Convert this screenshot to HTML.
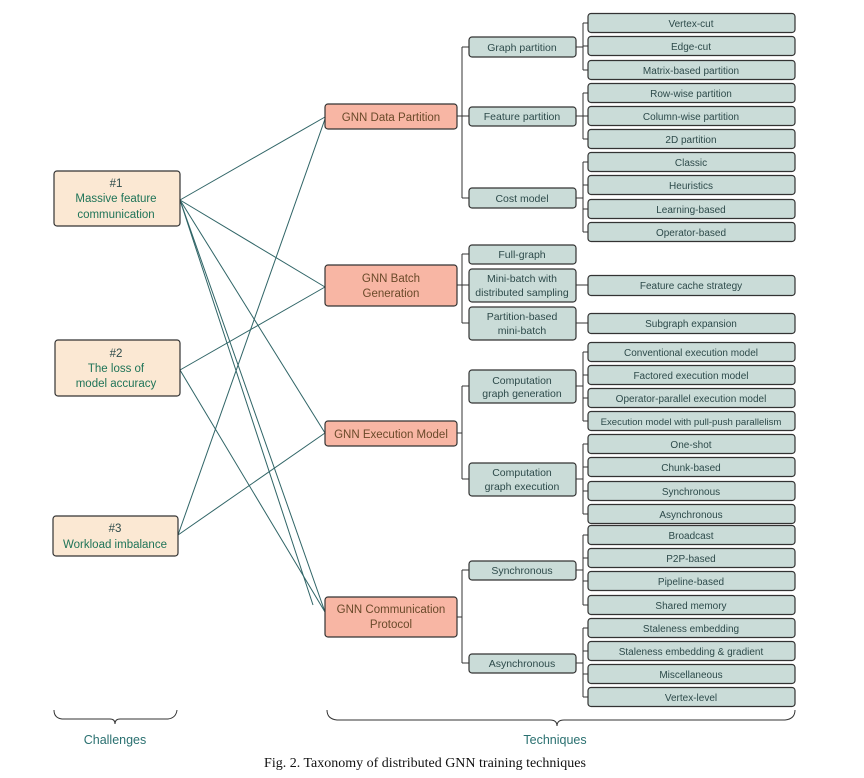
<!DOCTYPE html>
<html><head><meta charset="utf-8"><style>
body{margin:0;background:#fff;}
svg{display:block;}
text{font-family:"Liberation Sans",sans-serif;}
</style></head><body>
<svg width="864" height="778" viewBox="0 0 864 778" xmlns="http://www.w3.org/2000/svg">
<g stroke="#2f6466" stroke-width="1" fill="none">
<!-- challenge links -->
<line x1="180" y1="200" x2="325" y2="117"/>
<line x1="180" y1="200" x2="325" y2="287"/>
<line x1="180" y1="200" x2="325" y2="433"/>
<line x1="180" y1="200" x2="313" y2="605"/>
<line x1="180" y1="370" x2="325" y2="287"/>
<line x1="180" y1="370" x2="325" y2="612"/>
<line x1="178" y1="535" x2="325" y2="119"/>
<line x1="178" y1="535" x2="325" y2="433"/>
<line x1="180" y1="200" x2="325" y2="612"/>
</g>
<g stroke="#333" stroke-width="1" fill="none">
<!-- top trunks -->
<path d="M457 116H462M462 47V198M462 47H469M462 116H469M462 198H469"/>
<path d="M457 285H462M462 254V323M462 254H469M462 285H469M462 323H469"/>
<path d="M457 433H462M462 386V479M462 386H469M462 479H469"/>
<path d="M457 617H462M462 570V663M462 570H469M462 663H469"/>
<!-- mid trunks -->
<path d="M576 47H583M583 23V70M583 23H588M583 46H588M583 70H588"/>
<path d="M576 116H583M583 93V139M583 93H588M583 116H588M583 139H588"/>
<path d="M576 198H583M583 162V232M583 162H588M583 185H588M583 209H588M583 232H588"/>
<path d="M576 285H588M576 323H588"/>
<path d="M576 386H583M583 352V421M583 352H588M583 375H588M583 398H588M583 421H588"/>
<path d="M576 479H583M583 444V514M583 444H588M583 467H588M583 491H588M583 514H588"/>
<path d="M576 570H583M583 535V605M583 535H588M583 558H588M583 581H588M583 605H588"/>
<path d="M576 663H583M583 628V697M583 628H588M583 651H588M583 674H588M583 697H588"/>
</g>
<!-- leaves -->
<g font-size="10" fill="#2d4a4a" text-anchor="middle">
<g stroke="#333" stroke-width="1.2" fill="#cadcd8">
<rect x="588" y="13.5" width="207" height="19" rx="3"/>
<rect x="588" y="36.5" width="207" height="19" rx="3"/>
<rect x="588" y="60.5" width="207" height="19" rx="3"/>
<rect x="588" y="83.5" width="207" height="19" rx="3"/>
<rect x="588" y="106.5" width="207" height="19" rx="3"/>
<rect x="588" y="129.5" width="207" height="19" rx="3"/>
<rect x="588" y="152.5" width="207" height="19" rx="3"/>
<rect x="588" y="175.5" width="207" height="19" rx="3"/>
<rect x="588" y="199.5" width="207" height="19" rx="3"/>
<rect x="588" y="222.5" width="207" height="19" rx="3"/>
<rect x="588" y="275.5" width="207" height="20" rx="3"/>
<rect x="588" y="313.5" width="207" height="20" rx="3"/>
<rect x="588" y="342.5" width="207" height="19" rx="3"/>
<rect x="588" y="365.5" width="207" height="19" rx="3"/>
<rect x="588" y="388.5" width="207" height="19" rx="3"/>
<rect x="588" y="411.5" width="207" height="19" rx="3"/>
<rect x="588" y="434.5" width="207" height="19" rx="3"/>
<rect x="588" y="457.5" width="207" height="19" rx="3"/>
<rect x="588" y="481.5" width="207" height="19" rx="3"/>
<rect x="588" y="504.5" width="207" height="19" rx="3"/>
<rect x="588" y="525.5" width="207" height="19" rx="3"/>
<rect x="588" y="548.5" width="207" height="19" rx="3"/>
<rect x="588" y="571.5" width="207" height="19" rx="3"/>
<rect x="588" y="595.5" width="207" height="19" rx="3"/>
<rect x="588" y="618.5" width="207" height="19" rx="3"/>
<rect x="588" y="641.5" width="207" height="19" rx="3"/>
<rect x="588" y="664.5" width="207" height="19" rx="3"/>
<rect x="588" y="687.5" width="207" height="19" rx="3"/>
</g>
<text x="691" y="27">Vertex-cut</text>
<text x="691" y="50">Edge-cut</text>
<text x="691" y="74">Matrix-based partition</text>
<text x="691" y="97">Row-wise partition</text>
<text x="691" y="120">Column-wise partition</text>
<text x="691" y="143">2D partition</text>
<text x="691" y="166">Classic</text>
<text x="691" y="189">Heuristics</text>
<text x="691" y="213">Learning-based</text>
<text x="691" y="236">Operator-based</text>
<text x="691" y="289">Feature cache strategy</text>
<text x="691" y="327">Subgraph expansion</text>
<text x="691" y="356">Conventional execution model</text>
<text x="691" y="379">Factored execution model</text>
<text x="691" y="402">Operator-parallel execution model</text>
<text x="691" y="425" font-size="9.6">Execution model with pull-push parallelism</text>
<text x="691" y="448">One-shot</text>
<text x="691" y="471">Chunk-based</text>
<text x="691" y="495">Synchronous</text>
<text x="691" y="518">Asynchronous</text>
<text x="691" y="539">Broadcast</text>
<text x="691" y="562">P2P-based</text>
<text x="691" y="585">Pipeline-based</text>
<text x="691" y="609">Shared memory</text>
<text x="691" y="632">Staleness embedding</text>
<text x="691" y="655">Staleness embedding &amp; gradient</text>
<text x="691" y="678">Miscellaneous</text>
<text x="691" y="701">Vertex-level</text>
</g>
<!-- mid -->
<g font-size="10.5" fill="#2d4a4a" text-anchor="middle">
<g stroke="#333" stroke-width="1.2" fill="#cadcd8">
<rect x="469" y="37" width="107" height="20" rx="3"/>
<rect x="469" y="107" width="107" height="19" rx="3"/>
<rect x="469" y="188" width="107" height="20" rx="3"/>
<rect x="469" y="245" width="107" height="19" rx="3"/>
<rect x="469" y="269" width="107" height="33" rx="3"/>
<rect x="469" y="307" width="107" height="33" rx="3"/>
<rect x="469" y="370" width="107" height="33" rx="3"/>
<rect x="469" y="463" width="107" height="33" rx="3"/>
<rect x="469" y="561" width="107" height="19" rx="3"/>
<rect x="469" y="654" width="107" height="19" rx="3"/>
</g>
<text x="522" y="51">Graph partition</text>
<text x="522" y="120">Feature partition</text>
<text x="522" y="202">Cost model</text>
<text x="522" y="258">Full-graph</text>
<text x="522" y="282">Mini-batch with</text>
<text x="522" y="296">distributed sampling</text>
<text x="522" y="320">Partition-based</text>
<text x="522" y="334">mini-batch</text>
<text x="522" y="384">Computation</text>
<text x="522" y="397">graph generation</text>
<text x="522" y="476">Computation</text>
<text x="522" y="490">graph execution</text>
<text x="522" y="574">Synchronous</text>
<text x="522" y="667">Asynchronous</text>
</g>
<!-- top nodes -->
<g font-size="11.5" fill="#6a4a2a" text-anchor="middle">
<g stroke="#333" stroke-width="1.2" fill="#f8b6a4">
<rect x="325" y="104" width="132" height="25" rx="3"/>
<rect x="325" y="265" width="132" height="41" rx="3"/>
<rect x="325" y="421" width="132" height="25" rx="3"/>
<rect x="325" y="597" width="132" height="40" rx="3"/>
</g>
<text x="391" y="121">GNN Data Partition</text>
<text x="391" y="282">GNN Batch</text>
<text x="391" y="297">Generation</text>
<text x="391" y="438">GNN Execution Model</text>
<text x="391" y="613">GNN Communication</text>
<text x="391" y="628">Protocol</text>
</g>
<!-- challenges -->
<g font-size="11.5" fill="#1f7458" text-anchor="middle">
<g stroke="#333" stroke-width="1.2" fill="#fbe8d3">
<rect x="54" y="171" width="126" height="55" rx="3"/>
<rect x="55" y="340" width="125" height="56" rx="3"/>
<rect x="53" y="516" width="125" height="40" rx="3"/>
</g>
<text x="116" y="187" fill="#2d4a4a">#1</text>
<text x="116" y="202">Massive feature</text>
<text x="116" y="218">communication</text>
<text x="116" y="357" fill="#2d4a4a">#2</text>
<text x="116" y="372">The loss of</text>
<text x="116" y="387">model accuracy</text>
<text x="115" y="532" fill="#2d4a4a">#3</text>
<text x="115" y="548">Workload imbalance</text>
</g>
<!-- braces -->
<g stroke="#333" stroke-width="1" fill="none">
<path d="M54 710Q54 718 62 719H110Q115 719 115 724Q115 719 120 719H168Q176 718 177 710"/>
<path d="M327 710Q327 719 337 720H550Q557 720 557 726Q557 720 564 720H785Q795 719 795 710"/>
</g>
<text x="115" y="744" font-size="12.5" fill="#2a7070" text-anchor="middle">Challenges</text>
<text x="555" y="744" font-size="12.5" fill="#2a7070" text-anchor="middle">Techniques</text>
<text x="425" y="767" font-size="14" fill="#111" text-anchor="middle" style="font-family:'Liberation Serif',serif">Fig. 2.  Taxonomy of distributed GNN training techniques</text>
</svg>
</body></html>
